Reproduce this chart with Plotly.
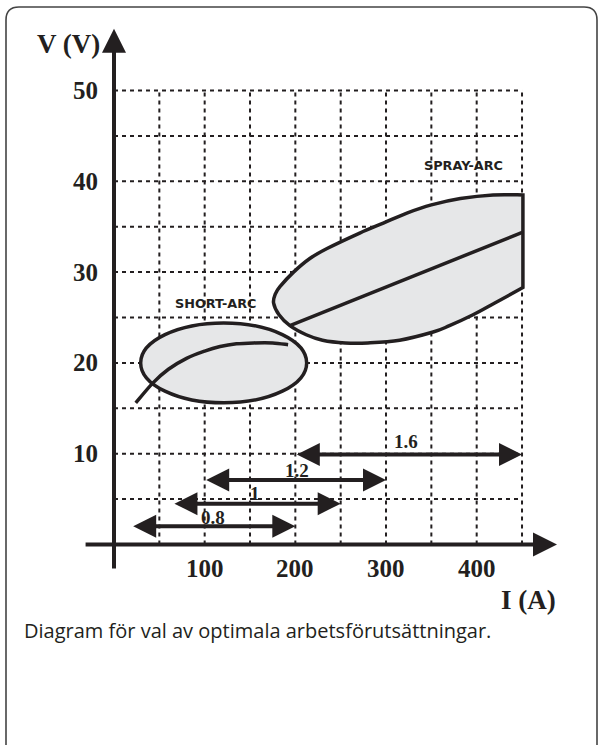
import plotly.graph_objects as go

# ---- data -------------------------------------------------------------
# axis ticks and dashed grid positions
x_ticks = [100, 200, 300, 400]
y_ticks = [10, 20, 30, 40, 50]
x_grid = [50, 100, 150, 200, 250, 300, 350, 400, 450]
y_grid = [5, 10, 15, 20, 25, 30, 35, 40, 45, 50]

# SHORT-ARC working region (ellipse bounds) and its characteristic curve
short_ellipse_I = [29.4, 212.5]
short_ellipse_V = [15.6, 24.4]
short_curve_I = [24, 43, 60, 80, 100, 117, 135, 154, 175, 192]
short_curve_V = [15.6, 17.8, 19.3, 20.5, 21.3, 21.8, 22.1, 22.2, 22.2, 22.0]

# SPRAY-ARC working region outline (bottom edge right->left, then top edge)
spray_I = [451, 420, 396, 370, 352, 315, 280, 255, 230, 212, 194, 182, 176,
           178, 183, 198, 216, 235, 271, 297, 323, 350, 382, 418, 451]
spray_V = [28.3, 26.6, 25.3, 24.1, 23.4, 22.5, 22.2, 22.2, 22.5, 23.1, 24.1,
           25.3, 26.6, 27.6, 28.4, 30.0, 31.5, 32.6, 34.3, 35.4, 36.5, 37.4,
           38.1, 38.5, 38.5]
spray_line_I = [194, 451]
spray_line_V = [24.1, 34.4]

# current ranges per wire diameter (mm)
wire_labels = ["0.8", "1", "1.2", "1.6"]
wire_I_min = [19.5, 65, 100, 200]
wire_I_max = [200, 250, 300, 450]
wire_V = [2.0, 4.5, 7.1, 9.9]
wire_label_I = [109, 155, 202, 322]
wire_label_V = [3.0, 5.6, 8.2, 11.3]

region_labels = ["SHORT-ARC", "SPRAY-ARC"]
region_label_I = [112, 386]
region_label_V = [26.5, 41.7]

caption = "Diagram för val av optimala arbetsförutsättningar."

# ---- layout geometry ----------------------------------------------------
W, H = 598, 745
L, R, T, B = 82, 35, 20, 170
PX_PER_A = 0.9067          # pixels per ampere
PX_PER_V = 9.08            # pixels per volt
ORIGIN_X, ORIGIN_Y = 114, 544.5
x_range = [-(ORIGIN_X - L) / PX_PER_A, (W - R - ORIGIN_X) / PX_PER_A]
y_range = [-(H - B - ORIGIN_Y) / PX_PER_V, (ORIGIN_Y - T) / PX_PER_V]
PW, PH = W - L - R, H - T - B

INK = "#231f20"
FILL = "#e6e7e8"
SERIF = "Liberation Serif"
LW = 3.5


def paper_x(px):
    return (px - L) / PW


def paper_y(py):
    return (H - B - py) / PH


def smooth_path(xs, ys, closed=False):
    """SVG path through the points using Catmull-Rom cubic segments."""
    pts = list(zip(xs, ys))
    ext = [pts[0]] + pts + [pts[-1]]
    d = f"M{pts[0][0]},{pts[0][1]}"
    for i in range(len(pts) - 1):
        p0, p1, p2, p3 = ext[i], ext[i + 1], ext[i + 2], ext[i + 3]
        c1 = (p1[0] + (p2[0] - p0[0]) / 6, p1[1] + (p2[1] - p0[1]) / 6)
        c2 = (p2[0] - (p3[0] - p1[0]) / 6, p2[1] - (p3[1] - p1[1]) / 6)
        d += f" C{c1[0]},{c1[1]} {c2[0]},{c2[1]} {p2[0]},{p2[1]}"
    if closed:
        d += " Z"
    return d


shapes = []
# dashed grid
for gx in x_grid:
    shapes.append(dict(type="line", xref="x", yref="y", x0=gx, x1=gx,
                       y0=0, y1=max(y_grid), layer="above",
                       line=dict(color=INK, width=2, dash="4px,4px")))
for gy in y_grid:
    shapes.append(dict(type="line", xref="x", yref="y", x0=0, x1=max(x_grid),
                       y0=gy, y1=gy, layer="above",
                       line=dict(color=INK, width=2, dash="4px,4px")))

# spray-arc region: smooth outline closed by its straight right edge
shapes.append(dict(type="path", xref="x", yref="y", layer="above",
                   path=smooth_path(spray_I, spray_V, closed=True),
                   fillcolor=FILL, line=dict(color=INK, width=LW)))
shapes.append(dict(type="line", xref="x", yref="y", layer="above",
                   x0=spray_line_I[0], x1=spray_line_I[1],
                   y0=spray_line_V[0], y1=spray_line_V[1],
                   line=dict(color=INK, width=LW)))

# short-arc region and its characteristic
shapes.append(dict(type="circle", xref="x", yref="y", layer="above",
                   x0=short_ellipse_I[0], x1=short_ellipse_I[1],
                   y0=short_ellipse_V[0], y1=short_ellipse_V[1],
                   fillcolor=FILL, line=dict(color=INK, width=LW)))
shapes.append(dict(type="path", xref="x", yref="y", layer="above",
                   path=smooth_path(short_curve_I, short_curve_V),
                   line=dict(color=INK, width=LW)))

# rounded frame around the figure
r = 13
x0f, x1f, y0f, y1f = 6, 597, 7, 760
frame = (f"M{paper_x(x0f)},{paper_y(y1f)} L{paper_x(x0f)},{paper_y(y0f + r)} "
         f"Q{paper_x(x0f)},{paper_y(y0f)} {paper_x(x0f + r)},{paper_y(y0f)} "
         f"L{paper_x(x1f - r)},{paper_y(y0f)} "
         f"Q{paper_x(x1f)},{paper_y(y0f)} {paper_x(x1f)},{paper_y(y0f + r)} "
         f"L{paper_x(x1f)},{paper_y(y1f)}")
shapes.append(dict(type="path", xref="paper", yref="paper", path=frame,
                   layer="above", line=dict(color="#444444", width=1.6)))

ann = []
# axes with arrow heads
ann.append(dict(x=488.6, y=0, ax=-33, ay=0, xref="x", yref="y", axref="x",
                ayref="y", text="", showarrow=True, arrowhead=2,
                arrowsize=1.2, arrowwidth=4, arrowcolor=INK, standoff=0))
ann.append(dict(x=0, y=56.8, ax=0, ay=-2.8, xref="x", yref="y", axref="x",
                ayref="y", text="", showarrow=True, arrowhead=2,
                arrowsize=1.2, arrowwidth=4, arrowcolor=INK, standoff=0))

# wire diameter current ranges
for lab, i0, i1, v, li, lv in zip(wire_labels, wire_I_min, wire_I_max,
                                  wire_V, wire_label_I, wire_label_V):
    ann.append(dict(x=i1, y=v, ax=i0, ay=v, xref="x", yref="y", axref="x",
                    ayref="y", text="", showarrow=True, arrowside="end+start",
                    arrowhead=2, startarrowhead=2, arrowsize=1.15,
                    startarrowsize=1.15, arrowwidth=4, arrowcolor=INK,
                    standoff=0, startstandoff=0))
    ann.append(dict(x=li, y=lv, xref="x", yref="y", text=lab,
                    showarrow=False, xanchor="center", yanchor="middle",
                    font=dict(family=SERIF, size=19, color=INK,
                              weight="bold")))

# tick labels
for t in y_ticks:
    ann.append(dict(x=0, y=t, xref="x", yref="y", text=str(t),
                    showarrow=False, xanchor="right", yanchor="middle",
                    xshift=-14,
                    font=dict(family=SERIF, size=25, color=INK,
                              weight="bold")))
for t in x_ticks:
    ann.append(dict(x=t, y=0, xref="x", yref="y", text=str(t),
                    showarrow=False, xanchor="center", yanchor="middle",
                    yshift=-24,
                    font=dict(family=SERIF, size=25, color=INK,
                              weight="bold")))

# axis titles
ann.append(dict(x=0, y=55.1, xref="x", yref="y", text="V (V)",
                showarrow=False, xanchor="center", yanchor="middle",
                xshift=-46,
                font=dict(family=SERIF, size=27, color=INK, weight="bold")))
ann.append(dict(x=456.6, y=0, xref="x", yref="y", text="I (A)",
                showarrow=False, xanchor="center", yanchor="middle",
                yshift=-55.5,
                font=dict(family=SERIF, size=27, color=INK, weight="bold")))

# region names
for lab, li, lv in zip(region_labels, region_label_I, region_label_V):
    ann.append(dict(x=li, y=lv, xref="x", yref="y", text=lab,
                    showarrow=False, xanchor="center", yanchor="middle",
                    font=dict(family="DejaVu Sans", size=12.8, color=INK,
                              weight="bold")))

# caption
ann.append(dict(x=paper_x(22), y=paper_y(630), xref="paper", yref="paper",
                text=caption, showarrow=False, xanchor="left",
                yanchor="middle",
                font=dict(family="Open Sans", size=20, color=INK)))

fig = go.Figure()
fig.update_layout(
    width=W, height=H, autosize=False,
    margin=dict(l=L, r=R, t=T, b=B, pad=0),
    paper_bgcolor="white", plot_bgcolor="white",
    shapes=shapes, annotations=ann, showlegend=False,
    xaxis=dict(range=x_range, visible=False, fixedrange=True),
    yaxis=dict(range=y_range, visible=False, fixedrange=True),
)

fig.write_html("out.html", config=dict(displayModeBar=False))
